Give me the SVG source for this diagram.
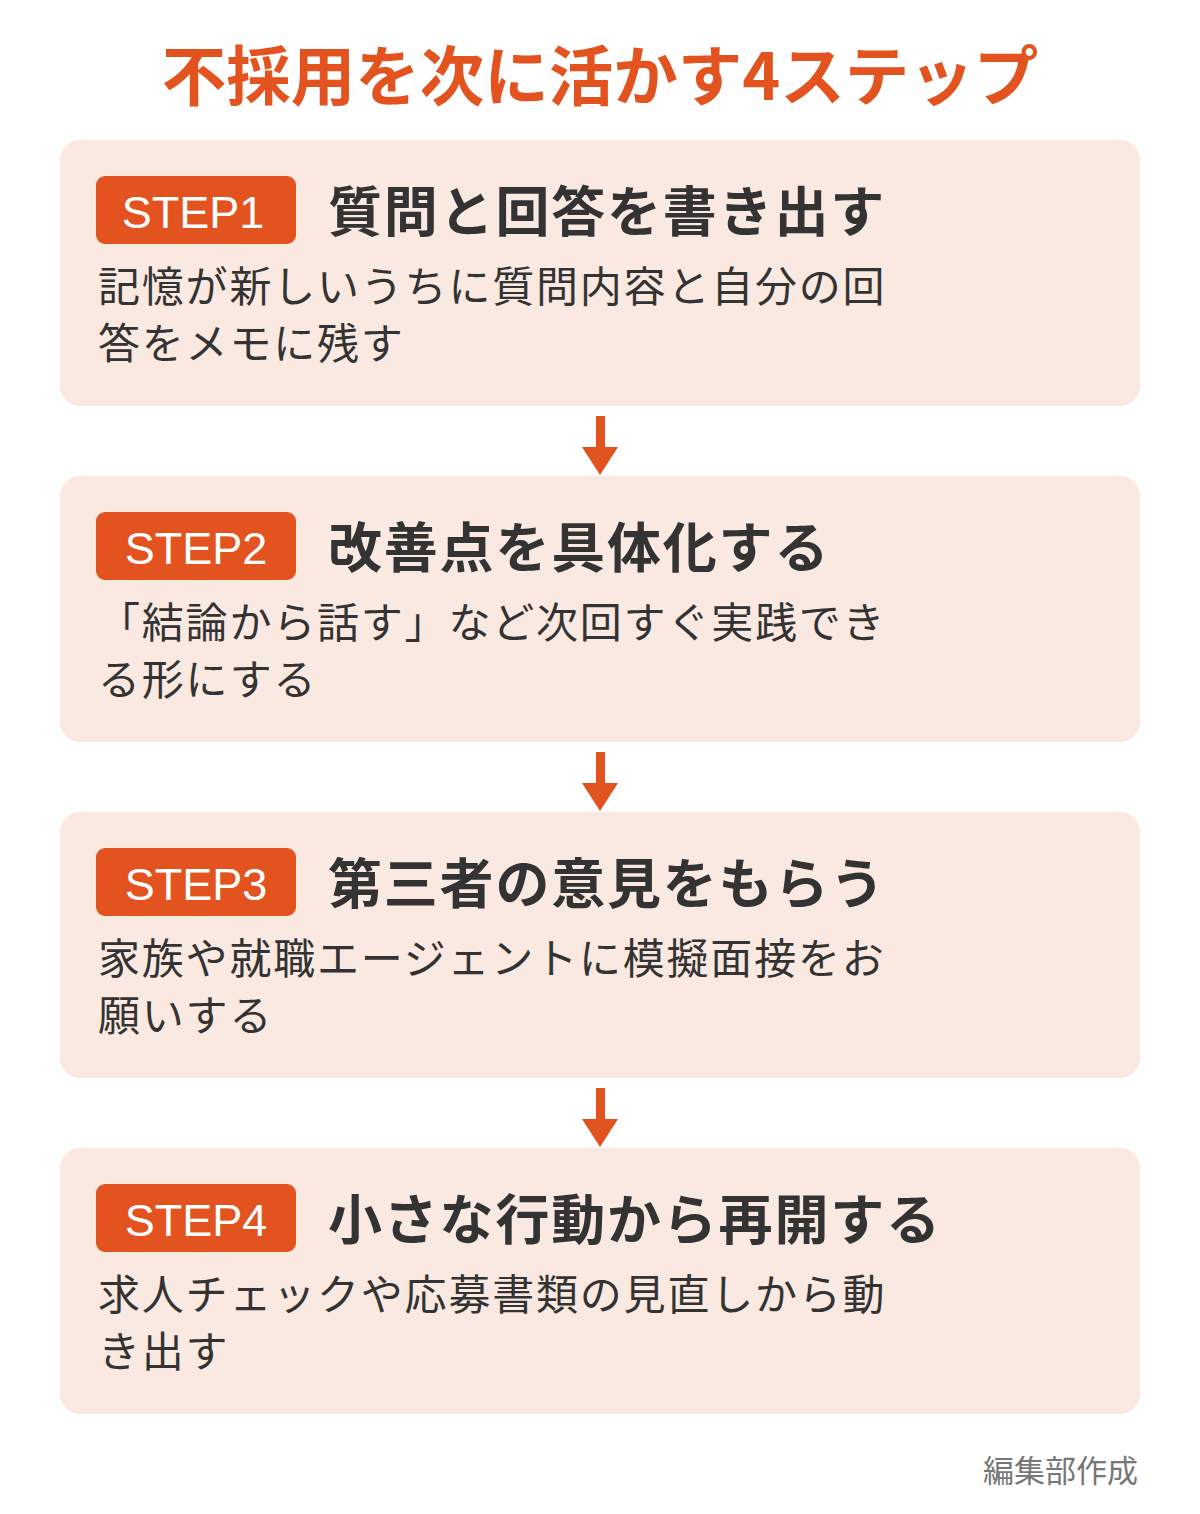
<svg xmlns="http://www.w3.org/2000/svg" width="1200" height="1514" viewBox="0 0 1200 1514">
<style>
.title{font-family:"Noto Sans CJK JP",sans-serif;font-weight:700;font-size:64.5px;fill:#E3531F}
.box{fill:#FAE9E1}
.badge{fill:#E3531F}
.bt{font-family:"Liberation Sans",Arial,sans-serif;font-weight:400;font-size:45px;fill:#fff}
.hd{font-family:"Noto Sans CJK JP",sans-serif;font-weight:700;font-size:54px;fill:#333;letter-spacing:1.8px}
.body{font-family:"Noto Sans CJK JP",sans-serif;font-weight:400;font-size:42px;fill:#333;letter-spacing:1.8px}
.foot{font-family:"Noto Sans CJK JP",sans-serif;font-size:31px;fill:#777}
.arr{fill:#E3531F}
</style>
<rect width="1200" height="1514" fill="#fff"/>
<text class="title" x="600" y="100" text-anchor="middle">不採用を次に活かす4ステップ</text>
<g id="connectors">
<rect class="arr" x="596" y="416" width="9" height="32"/><polygon class="arr" points="582,447 618,447 600,475"/>
<rect class="arr" x="596" y="752" width="9" height="32"/><polygon class="arr" points="582,783 618,783 600,811"/>
<rect class="arr" x="596" y="1088" width="9" height="32"/><polygon class="arr" points="582,1119 618,1119 600,1147"/>
</g>
<g id="step1">
<rect class="box" x="60" y="140" width="1080" height="266" rx="20"/>
<rect class="badge" x="96" y="176" width="200" height="68" rx="9"/>
<text class="bt" x="193" y="228" text-anchor="middle">STEP1</text>
<text class="hd" x="328" y="232">質問と回答を書き出す</text>
<text class="body" x="98" y="302">記憶が新しいうちに質問内容と自分の回</text>
<text class="body" x="98" y="359">答をメモに残す</text>
</g>
<g id="step2">
<rect class="box" x="60" y="476" width="1080" height="266" rx="20"/>
<rect class="badge" x="96" y="512" width="200" height="68" rx="9"/>
<text class="bt" x="196" y="564" text-anchor="middle">STEP2</text>
<text class="hd" x="328" y="568">改善点を具体化する</text>
<text class="body" x="98" y="638">「結論から話す」など次回すぐ実践でき</text>
<text class="body" x="98" y="695">る形にする</text>
</g>
<g id="step3">
<rect class="box" x="60" y="812" width="1080" height="266" rx="20"/>
<rect class="badge" x="96" y="848" width="200" height="68" rx="9"/>
<text class="bt" x="196" y="900" text-anchor="middle">STEP3</text>
<text class="hd" x="328" y="904">第三者の意見をもらう</text>
<text class="body" x="98" y="974">家族や就職エージェントに模擬面接をお</text>
<text class="body" x="98" y="1031">願いする</text>
</g>
<g id="step4">
<rect class="box" x="60" y="1148" width="1080" height="266" rx="20"/>
<rect class="badge" x="96" y="1184" width="200" height="68" rx="9"/>
<text class="bt" x="196" y="1236" text-anchor="middle">STEP4</text>
<text class="hd" x="328" y="1240">小さな行動から再開する</text>
<text class="body" x="98" y="1310">求人チェックや応募書類の見直しから動</text>
<text class="body" x="98" y="1367">き出す</text>
</g>
<text class="foot" x="1138" y="1482" text-anchor="end">編集部作成</text>
</svg>
